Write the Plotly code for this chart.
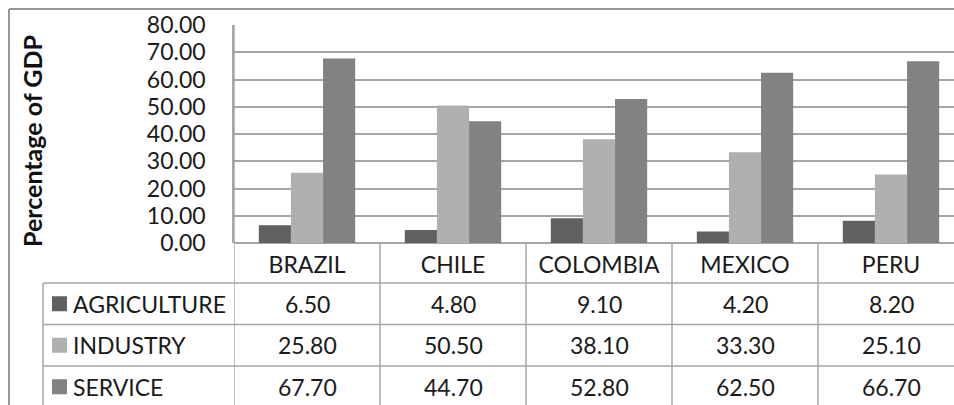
import plotly.graph_objects as go

countries = ["BRAZIL", "CHILE", "COLOMBIA", "MEXICO", "PERU"]
series_names = ["AGRICULTURE", "INDUSTRY", "SERVICE"]
agriculture = [6.50, 4.80, 9.10, 4.20, 8.20]
industry = [25.80, 50.50, 38.10, 33.30, 25.10]
service = [67.70, 44.70, 52.80, 62.50, 66.70]
series_values = [agriculture, industry, service]
series_colors = ["#606060", "#b0b0b0", "#828282"]
y_ticks = [0, 10, 20, 30, 40, 50, 60, 70, 80]

W, H = 954, 405
L, R, T, B = 234, 0, 25, 162
plot_w = W - L - R
plot_h = H - T - B
col_px = 146.0
row_px = 41.5
FONT = "Lato"
line_col = "#a6a6a6"
text_col = "#1a1a1a"

fig = go.Figure()
for name, vals, col in zip(series_names, series_values, series_colors):
    fig.add_trace(go.Bar(x=countries, y=vals, name=name, marker=dict(color=col, line=dict(width=0))))

shapes = []
annotations = []

def px_to_paper_y(dy):
    return -dy / plot_h

def px_to_paper_x(x):
    return (x - L) / plot_w

# vertical table lines between categories (below the axis)
for i in range(len(countries) + 1):
    shapes.append(dict(type="line", xref="x", yref="paper", x0=i - 0.5, x1=i - 0.5,
                       y0=0 if i > 0 else 1, y1=-1.0, line=dict(color=line_col, width=1.5)))
# horizontal table lines
label_x0 = px_to_paper_x(43)
for r in range(len(series_names) + 1):
    yy = px_to_paper_y(40 + r * row_px)
    shapes.append(dict(type="line", xref="paper", yref="paper", x0=label_x0, x1=1,
                       y0=yy, y1=yy, line=dict(color=line_col, width=1.5)))
shapes.append(dict(type="line", xref="paper", yref="paper", x0=label_x0, x1=label_x0,
                   y0=px_to_paper_y(40), y1=-1.0, line=dict(color=line_col, width=1.5)))
# outer chart border
bx = px_to_paper_x(9)
by = 1 + (T - 9) / plot_h
shapes.append(dict(type="line", xref="paper", yref="paper", x0=bx, x1=1.01, y0=by, y1=by,
                   line=dict(color="#999999", width=2)))
shapes.append(dict(type="line", xref="paper", yref="paper", x0=bx, x1=bx, y0=by, y1=-1.0,
                   line=dict(color="#999999", width=2)))

# table cells
for r, (name, vals, col) in enumerate(zip(series_names, series_values, series_colors)):
    yc_px = 40 + r * row_px + row_px / 2
    yc = px_to_paper_y(yc_px)
    # legend key square
    shapes.append(dict(type="rect", xref="paper", yref="paper",
                       x0=px_to_paper_x(52), x1=px_to_paper_x(67),
                       y0=px_to_paper_y(yc_px - 7.5), y1=px_to_paper_y(yc_px + 7.5),
                       fillcolor=col, line=dict(width=0)))
    annotations.append(dict(xref="paper", yref="paper", x=px_to_paper_x(71), y=yc,
                            xanchor="left", yanchor="middle", showarrow=False,
                            text=name, font=dict(family=FONT, size=23, color=text_col)))
    for c, v in zip(countries, vals):
        annotations.append(dict(xref="x", yref="paper", x=c, y=yc, xanchor="center",
                                yanchor="middle", showarrow=False, text=f"{v:.2f}",
                                font=dict(family=FONT, size=23, color=text_col)))

# y-axis title
annotations.append(dict(xref="paper", yref="paper", x=px_to_paper_x(32), y=px_to_paper_y(141 - 243),
                        xanchor="center", yanchor="middle", showarrow=False, textangle=-90,
                        text="<b>Percentage of GDP</b>",
                        font=dict(family=FONT, size=25, color="#111111")))

fig.update_layout(
    width=W, height=H,
    margin=dict(l=L, r=R, t=T, b=B, pad=0),
    paper_bgcolor="white", plot_bgcolor="white",
    barmode="group", bargap=0.34, bargroupgap=0,
    showlegend=False,
    font=dict(family=FONT, size=23, color=text_col),
    shapes=shapes, annotations=annotations,
    xaxis=dict(range=[-0.5, -0.5 + plot_w / col_px], showgrid=False, zeroline=False,
               showline=False, ticks="outside", ticklen=1, tickcolor="rgba(0,0,0,0)",
               tickfont=dict(family=FONT, size=23, color=text_col), fixedrange=True),
    yaxis=dict(range=[0, 80], tickvals=y_ticks, ticktext=[f"{v:.2f}" for v in y_ticks],
               showgrid=True, gridcolor=line_col, gridwidth=1.5, zeroline=True,
               zerolinecolor=line_col, zerolinewidth=1.5, showline=True, linecolor=line_col,
               linewidth=1.5, ticks="", ticklabelstandoff=22,
               tickfont=dict(family=FONT, size=23, color=text_col), fixedrange=True),
)

fig.write_html("out.html")
